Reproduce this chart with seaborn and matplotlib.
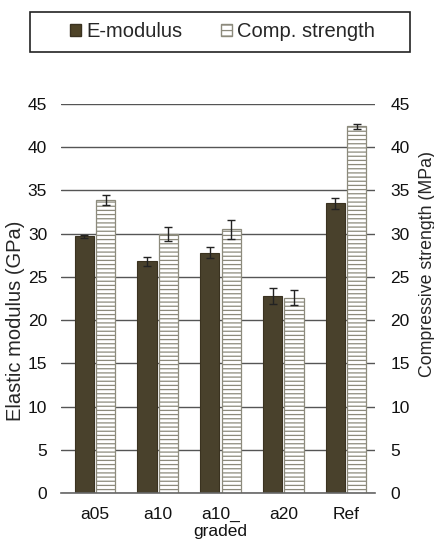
import numpy as np
import pandas as pd
import matplotlib
matplotlib.use("Agg")
import matplotlib.pyplot as plt
import seaborn as sns
from matplotlib.patches import Patch, Rectangle

# data
samples = ["a05", "a10", "a10_\ngraded", "a20", "Ref"]
e_modulus = [29.7, 26.8, 27.8, 22.8, 33.5]
e_modulus_err = [0.2, 0.5, 0.6, 0.9, 0.6]
comp_strength = [33.9, 30.0, 30.5, 22.6, 42.4]
comp_strength_err = [0.6, 0.8, 1.1, 0.9, 0.3]
series = ["E-modulus", "Comp. strength"]
yticks = [0, 5, 10, 15, 20, 25, 30, 35, 40, 45]

sns.set_style("white")
plt.rcParams["font.family"] = ["Liberation Sans", "DejaVu Sans"]
plt.rcParams["hatch.linewidth"] = 0.9

df = pd.DataFrame({
    "sample": samples * 2,
    "value": e_modulus + comp_strength,
    "series": [series[0]] * 5 + [series[1]] * 5,
})

W, H = 435, 550
fig = plt.figure(figsize=(W / 100, H / 100), dpi=100)
ax = fig.add_axes([61 / W, 1 - 493 / H, 314 / W, 389 / H])

dark = "#4e4327"
hatch_col = "#8c8a7c"
sns.barplot(data=df, x="sample", y="value", hue="series", order=samples,
            hue_order=series, palette=[dark, "white"], width=0.68, gap=0.1,
            errorbar=None, legend=False, ax=ax)

errs = [e_modulus_err, comp_strength_err]
bar_conts = list(ax.containers)
for i, cont in enumerate(bar_conts):
    xs = [p.get_x() + p.get_width() / 2 for p in cont.patches]
    hs = [p.get_height() for p in cont.patches]
    for p in cont.patches:
        if i == 0:
            p.set_edgecolor("#3a3220")
            p.set_linewidth(0.8)
        else:
            p.set_hatch("----")
            p.set_edgecolor(hatch_col)
            p.set_linewidth(0.9)
    ax.errorbar(xs, hs, yerr=errs[i], fmt="none", ecolor="#222222",
                elinewidth=1.0, capsize=3, capthick=1.0, zorder=5)

ax.set_ylim(0, 45)
ax.set_yticks(yticks)
ax.set_xlim(-0.54, 4.46)
ax.yaxis.grid(True, color="#555555", linewidth=1.0)
ax.set_axisbelow(True)
for s in ["top", "left", "right"]:
    ax.spines[s].set_visible(False)
ax.spines["bottom"].set_color("#666666")
ax.spines["bottom"].set_linewidth(1.2)
ax.tick_params(axis="x", length=0, labelsize=12.5, pad=10, colors="#111111")
ax.tick_params(axis="y", length=0, labelsize=12.5, pad=10, colors="#111111")
ax.set_xlabel("")
ax.set_ylabel("Elastic modulus (GPa)", fontsize=14.5)
ax.yaxis.set_label_coords(-0.115, 0.442)

ax2 = ax.twinx()
ax2.set_ylim(0, 45)
ax2.set_yticks(yticks)
for s in ["top", "left", "right", "bottom"]:
    ax2.spines[s].set_visible(False)
ax2.tick_params(axis="y", length=0, labelsize=12.5, pad=11, colors="#111111")
ax2.set_ylabel("Compressive strength (MPa)", fontsize=12.8)
ax2.yaxis.set_label_coords(1.14, 0.589)

# legend with a frame wider than its entries
fig.patches.append(Rectangle((30 / W, 1 - 51.5 / H), 380 / W, 39.5 / H,
                             transform=fig.transFigure, fill=False,
                             edgecolor="#222222", linewidth=1.2))
handles = [Patch(facecolor=dark, edgecolor="#3a3220", label=series[0]),
           Patch(facecolor="white", edgecolor=hatch_col, hatch="---",
                 label=series[1])]
fig.legend(handles=handles, loc="center", ncol=2,
           bbox_to_anchor=(222.5 / W, 1 - 31.5 / H), frameon=False,
           fontsize=14.5, handlelength=0.55, handleheight=0.55,
           handletextpad=0.28, columnspacing=1.9, borderpad=0.2)

fig.savefig("out.png", dpi=100)
